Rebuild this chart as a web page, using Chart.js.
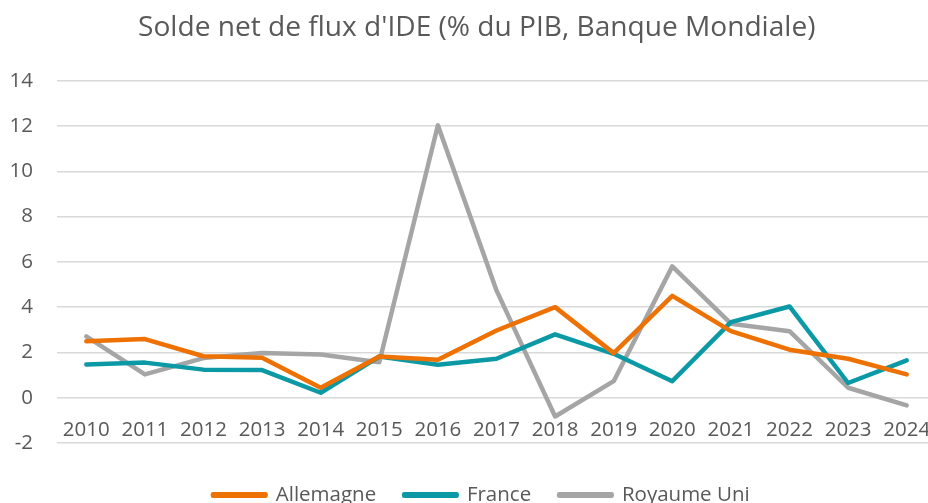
<!DOCTYPE html>
<html>
<head>
<meta charset="utf-8">
<script src="https://cdn.jsdelivr.net/npm/chart.js@4"></script>
<style>
  html, body { margin: 0; padding: 0; background: #fff; overflow: hidden; }
  #box { width: 936px; height: 503px; position: relative; }
</style>
</head>
<body>
<div id="box"><canvas id="graphCanvas"></canvas></div>
<script>
var years = ['2010', '2011', '2012', '2013', '2014', '2015', '2016', '2017', '2018', '2019', '2020', '2021', '2022', '2023', '2024'];
var allemagne = [2.49, 2.59, 1.83, 1.77, 0.44, 1.82, 1.68, 2.97, 4.0, 1.97, 4.5, 2.94, 2.12, 1.72, 1.03];
var france = [1.47, 1.55, 1.24, 1.22, 0.22, 1.82, 1.46, 1.72, 2.8, 1.94, 0.73, 3.34, 4.03, 0.65, 1.65];
var royaumeUni = [2.71, 1.03, 1.75, 1.97, 1.91, 1.57, 12.03, 4.74, -0.83, 0.73, 5.8, 3.27, 2.94, 0.44, -0.34];
var yTicks = [-2, 0, 2, 4, 6, 8, 10, 12, 14];

var textColor = '#595959';
var fontName = "'Open Sans', sans-serif";

// legend sits lower-left like in the Excel original, title slightly right
var legendStartX = 213;
var legendRowY = 495;
var titleShift = 4;

function serie(label, values, color) {
    return {
        label: label,
        data: values,
        borderColor: color,
        backgroundColor: color,
        borderWidth: 4.5,
        pointRadius: 0,
        tension: 0,
        borderJoinStyle: 'round',
        borderCapStyle: 'round'
    };
}

var chartdata = {
    labels: years,
    datasets: [
        serie('Allemagne', allemagne, '#EE7203'),
        serie('France', france, '#0C99A6'),
        serie('Royaume Uni', royaumeUni, '#A5A5A5')
    ]
};

var placeBoxes = {
    id: 'placeBoxes',
    afterLayout: function (chart) {
        var lg = chart.legend;
        var pad = lg.options.labels.padding;
        var fs = lg.options.labels.font.size;
        var dx = legendStartX - (lg.left + pad);
        var dy = legendRowY - (lg.top + pad + fs / 2);
        lg.left += dx; lg.right += dx;
        lg.top += dy; lg.bottom += dy;
        var t = chart.titleBlock;
        t.left += titleShift; t.right += titleShift;
    }
};

new Chart(document.getElementById('graphCanvas'), {
    type: 'line',
    data: chartdata,
    plugins: [placeBoxes],
    options: {
        responsive: true,
        maintainAspectRatio: false,
        animation: false,
        layout: { padding: { left: 9.5, right: 0, top: 0, bottom: 1.5 } },
        plugins: {
            title: {
                display: true,
                text: "Solde net de flux d'IDE (% du PIB, Banque Mondiale)",
                color: textColor,
                font: { family: fontName, size: 28.1, weight: 'normal' },
                padding: { top: 11, bottom: 36 }
            },
            legend: {
                position: 'bottom',
                align: 'start',
                labels: {
                    color: textColor,
                    font: { family: fontName, size: 20.5 },
                    boxWidth: 52.5,
                    boxHeight: 1.5,
                    padding: 28
                }
            },
            tooltip: { enabled: false }
        },
        scales: {
            x: {
                position: { y: 0 },
                offset: true,
                grid: { display: false },
                border: { display: false },
                afterFit: function (scale) {
                    scale.paddingLeft = 0;
                    scale.paddingRight = 0;
                },
                ticks: {
                    color: textColor,
                    font: { family: fontName, size: 20.5 },
                    padding: 12.5,
                    maxRotation: 0,
                    autoSkip: false
                }
            },
            y: {
                min: -2,
                max: 14,
                afterBuildTicks: function (scale) {
                    scale.ticks = yTicks.map(function (v) { return { value: v }; });
                },
                afterFit: function (scale) {
                    scale.width = 47.5;
                },
                grid: { color: '#D9D9D9', lineWidth: 1.5, drawTicks: false },
                border: { display: false },
                ticks: {
                    color: textColor,
                    font: { family: fontName, size: 20.5 },
                    padding: 24
                }
            }
        }
    }
});
</script>
</body>
</html>
